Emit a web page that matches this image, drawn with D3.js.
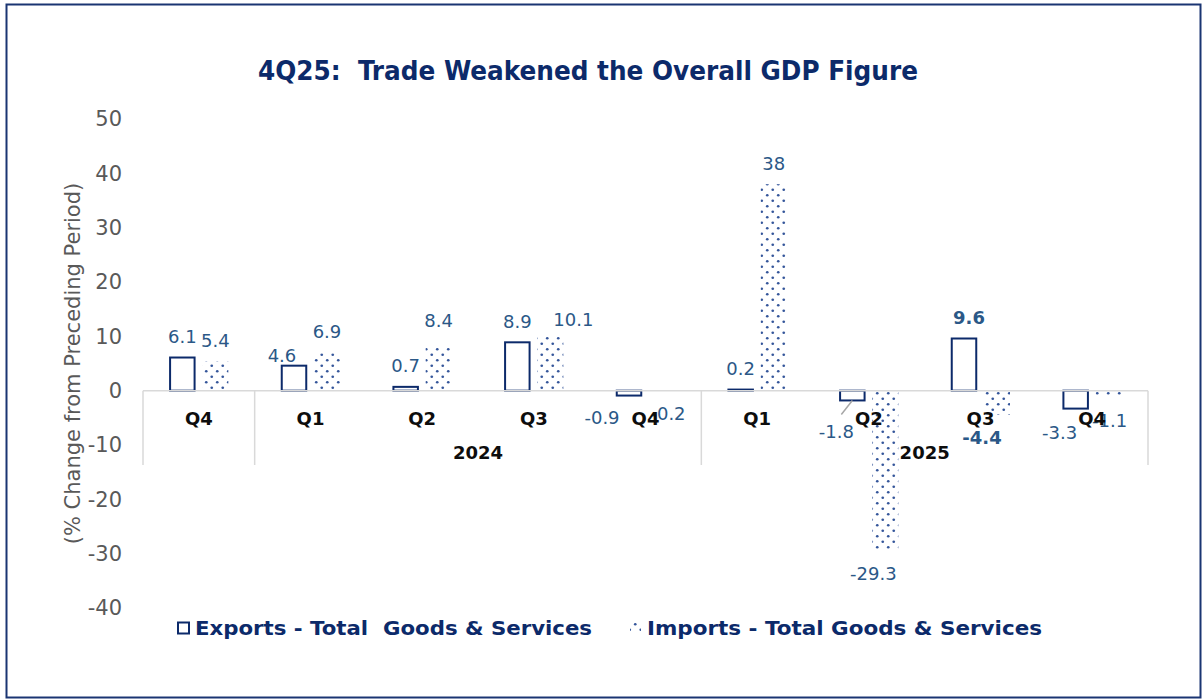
<!DOCTYPE html>
<html>
<head>
<meta charset="utf-8">
<script src="https://cdn.jsdelivr.net/npm/d3@7"></script>
<style>
  body { margin: 0; background: #fff; }
  svg { display: block; }
</style>
</head>
<body>
<svg id="chart"></svg>
<script>
// quarters along the x axis, years grouped underneath
let quarters = ["Q4", "Q1", "Q2", "Q3", "Q4", "Q1", "Q2", "Q3", "Q4"];
let years = [
  { label: "", from: 0, to: 0 },
  { label: "2024", from: 1, to: 4 },
  { label: "2025", from: 5, to: 8 }
];

let exports_values = [6.1, 4.6, 0.7, 8.9, -0.9, 0.2, -1.8, 9.6, -3.3];
let imports_values = [5.4, 6.9, 8.4, 10.1, -0.2, 38, -29.3, -4.4, -1.1];

let y_ticks = [50, 40, 30, 20, 10, 0, -10, -20, -30, -40];

let series_names = [
  "Exports - Total  Goods & Services",
  "Imports - Total Goods & Services"
];

// hand-moved data labels (like the excel original): [dx, dy]
let label_nudge = {
  exp: { 1: [-12, 11], 4: [-27, -1], 6: [-16, 8], 7: [5, 0], 8: [-16, 1] },
  imp: { 2: [0, -3], 3: [23, 5], 4: [6, -1], 6: [-12, 1], 7: [-15, 0], 8: [1, 1] }
};
let bold_labels = { exp: [7], imp: [7] };

let width = 1203;
let height = 700;
let navy = "#0c2a6a";
let label_blue = "#2b5887";
let grey_line = "#d9d9d9";

let svg = d3.select("#chart").attr("width", width).attr("height", height);

let defs = svg.append("defs");
let pattern = defs
  .append("pattern")
  .attr("id", "dots")
  .attr("patternUnits", "userSpaceOnUse")
  .attr("width", 11)
  .attr("height", 11);
pattern.append("rect").attr("width", 11).attr("height", 11).attr("fill", "#fff");
pattern.append("circle").attr("cx", 2.75).attr("cy", 2.75).attr("r", 1.35).attr("fill", "#34559a");
pattern.append("circle").attr("cx", 8.25).attr("cy", 8.25).attr("r", 1.35).attr("fill", "#34559a");

// outer frame
svg
  .append("rect")
  .attr("x", 6.5)
  .attr("y", 4.5)
  .attr("width", 1194)
  .attr("height", 693)
  .attr("fill", "#fff")
  .attr("stroke", "#1a3572")
  .attr("stroke-width", 2);

svg
  .append("text")
  .attr("x", 588)
  .attr("y", 80)
  .attr("text-anchor", "middle")
  .style("font-family", "'DejaVu Sans Condensed', 'DejaVu Sans', sans-serif")
  .style("font-weight", "bold")
  .style("font-size", "26px")
  .attr("textLength", 660)
  .attr("lengthAdjust", "spacingAndGlyphs")
  .style("fill", navy)
  .style("white-space", "pre")
  .text("4Q25:  Trade Weakened the Overall GDP Figure");

let x = d3
  .scaleBand()
  .domain(d3.range(quarters.length))
  .range([143, 1148]);

let y = d3.scaleLinear().domain([-40, 50]).range([608, 119]);

let x1 = d3
  .scaleBand()
  .domain(["exp", "imp"])
  .range([0, 59])
  .paddingInner(7 / 33);

let groupLeft = function(i) {
  return x(i) + x.bandwidth() / 2 - 29.5;
};

// y axis labels (no axis line)
let yAxis = d3
  .axisLeft(y)
  .tickValues(y_ticks)
  .tickFormat(d => String(d))
  .tickSize(0)
  .tickPadding(0);
let yg = svg
  .append("g")
  .attr("transform", "translate(122,0)")
  .call(yAxis);
yg.select(".domain").remove();
yg.selectAll("text")
  .style("font-family", "'DejaVu Sans', Verdana, sans-serif")
  .style("font-size", "21px")
  .style("fill", "#595959");

svg
  .append("text")
  .attr("transform", "translate(80," + (y(5)) + ") rotate(-90)")
  .attr("text-anchor", "middle")
  .style("font-family", "'DejaVu Sans', Verdana, sans-serif")
  .style("font-size", "21px")
  .style("fill", "#595959")
  .text("(% Change from Preceding Period)");

// category axis
let axisG = svg.append("g");
axisG
  .append("line")
  .attr("x1", 143)
  .attr("x2", 1148)
  .attr("y1", y(0))
  .attr("y2", y(0))
  .attr("stroke", grey_line)
  .attr("stroke-width", 1.5);

let dividers = [0].concat(years.map(d => d.to + 1));
axisG
  .selectAll(".divider")
  .data(dividers)
  .join("line")
  .attr("class", "divider")
  .attr("x1", d => (d < quarters.length ? x(d) : x.range()[1]))
  .attr("x2", d => (d < quarters.length ? x(d) : x.range()[1]))
  .attr("y1", y(0))
  .attr("y2", 465)
  .attr("stroke", grey_line)
  .attr("stroke-width", 1.5);

// bars
let bar_rows = [];
quarters.forEach(function(q, i) {
  bar_rows.push({ key: "exp", i: i, v: exports_values[i] });
  bar_rows.push({ key: "imp", i: i, v: imports_values[i] });
});

svg
  .append("g")
  .selectAll("rect")
  .data(bar_rows)
  .join("rect")
  .attr("x", d => groupLeft(d.i) + x1(d.key) + (d.key == "exp" ? 0.75 : 0))
  .attr("width", d => x1.bandwidth() - (d.key == "exp" ? 1.5 : 0))
  .attr("y", d => Math.min(y(d.v), y(0)))
  .attr("height", d => Math.abs(y(d.v) - y(0)))
  .attr("fill", d => (d.key == "exp" ? "#fff" : "url(#dots)"))
  .attr("stroke", d => (d.key == "exp" ? navy : "none"))
  .attr("stroke-width", 2);

// category labels
axisG
  .selectAll(".qlabel")
  .data(quarters)
  .join("text")
  .attr("class", "qlabel")
  .attr("x", (d, i) => x(i) + x.bandwidth() / 2)
  .attr("y", 425)
  .attr("text-anchor", "middle")
  .style("font-family", "'DejaVu Sans', Verdana, sans-serif")
  .style("font-weight", "bold")
  .style("font-size", "18px")
  .style("fill", "#0d0d0d")
  .text(d => d);

// data labels
let labelPos = function(d) {
  let nudge = (label_nudge[d.key][d.i] || [0, 0]);
  let cx = groupLeft(d.i) + x1(d.key) + x1.bandwidth() / 2 + nudge[0];
  let cy = d.v >= 0 ? y(d.v) - 21 : y(d.v) + 23;
  return [cx, cy + nudge[1]];
};

svg
  .append("g")
  .selectAll("text")
  .data(bar_rows)
  .join("text")
  .attr("x", d => labelPos(d)[0])
  .attr("y", d => labelPos(d)[1])
  .attr("dy", "0.35em")
  .attr("text-anchor", "middle")
  .style("font-family", "'DejaVu Sans', Verdana, sans-serif")
  .style("font-size", "18px")
  .style("font-weight", d => (bold_labels[d.key].includes(d.i) ? "bold" : "normal"))
  .style("fill", label_blue)
  .text(d => d.v);

// leader line for the moved -1.8 label
let leader = bar_rows.find(d => d.key == "exp" && d.i == 6);
svg
  .append("line")
  .attr("x1", groupLeft(leader.i) + x1("exp") + x1.bandwidth() / 2)
  .attr("y1", y(leader.v))
  .attr("x2", labelPos(leader)[0] + 5)
  .attr("y2", labelPos(leader)[1] - 17)
  .attr("stroke", "#a6a6a6")
  .attr("stroke-width", 1.5);

// year labels
axisG.raise();
svg
  .append("g")
  .selectAll("text")
  .data(years.filter(d => d.label))
  .join("text")
  .attr("x", d => (x(d.from) + (d.to + 1 < quarters.length ? x(d.to + 1) : x.range()[1])) / 2)
  .attr("y", 459)
  .attr("text-anchor", "middle")
  .style("font-family", "'DejaVu Sans', Verdana, sans-serif")
  .style("font-weight", "bold")
  .style("font-size", "18px")
  .style("fill", "#0d0d0d")
  .text(d => d.label);

// legend
let legend = svg.append("g");
let legend_items = [
  { name: series_names[0], mx: 177, tx: 195, tw: 397, key: "exp" },
  { name: series_names[1], mx: 629, tx: 647, tw: 395, key: "imp" }
];
legend
  .selectAll("rect")
  .data(legend_items)
  .join("rect")
  .attr("x", d => d.mx + 1)
  .attr("y", 622.5)
  .attr("width", 11)
  .attr("height", 11)
  .attr("fill", d => (d.key == "exp" ? "#fff" : "url(#dots)"))
  .attr("stroke", d => (d.key == "exp" ? navy : "none"))
  .attr("stroke-width", 2);
legend
  .selectAll("text")
  .data(legend_items)
  .join("text")
  .attr("x", d => d.tx)
  .attr("y", 635)
  .attr("textLength", d => d.tw)
  .attr("lengthAdjust", "spacingAndGlyphs")
  .style("font-family", "'DejaVu Sans', Verdana, sans-serif")
  .style("font-weight", "bold")
  .style("font-size", "20px")
  .style("fill", navy)
  .style("white-space", "pre")
  .text(d => d.name);
</script>
</body>
</html>
